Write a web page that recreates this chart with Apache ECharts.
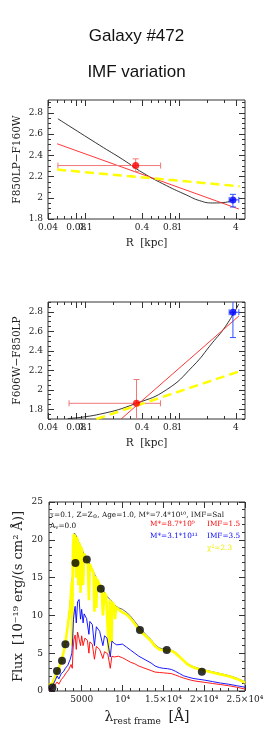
<!DOCTYPE html>
<html><head><meta charset="utf-8">
<script src="https://cdn.jsdelivr.net/npm/echarts@6/dist/echarts.min.js"></script>
<style>html,body{margin:0;padding:0;background:#fff}#c{width:273px;height:732px}</style>
</head><body><div id="c"></div>
<script>
// ---------------- DATA ----------------
const titleLine1 = 'Galaxy #472';
const titleLine2 = 'IMF variation';

const rMajorTicks = [0.04, 0.08, 0.1, 0.4, 0.8, 1, 4];
const rMinorTicks = [0.05, 0.06, 0.07, 0.09, 0.2, 0.3, 0.5, 0.6, 0.7, 0.9, 2, 3];
const colorMajorTicks = [1.8, 2, 2.2, 2.4, 2.6, 2.8];

// Panel 1 : F850LP-F160W vs R
const p1BlackR = [0.051, 0.142, 0.25, 0.41, 0.73, 1.19, 1.64, 2.26, 3.1, 3.9];
const p1BlackC = [2.743, 2.494, 2.36, 2.234, 2.114, 2.026, 1.973, 1.951, 1.957, 1.99];
const p1RedR = [0.05, 4.3];
const p1RedC = [2.508, 1.894];
const p1YellowR = [0.05, 4.4];
const p1YellowC = [2.265, 2.108];
// point: [R, color, Rlo, Rhi, Clo, Chi]
const p1RedPoint = [0.343, 2.303, 0.051, 0.632, 2.246, 2.366];
const p1BluePoint = [3.72, 1.98, 3.39, 4.3, 1.913, 2.032];

// Panel 2 : F606W-F850LP vs R
const p2BlackR = [0.065, 0.142, 0.35, 0.73, 1.39, 2.24, 3.1, 4.3];
const p2BlackC = [1.705, 1.749, 1.861, 2.0, 2.24, 2.48, 2.65, 2.88];
const p2RedR = [0.24, 4.3];
const p2RedC = [1.7, 2.756];
const p2YellowR = [0.131, 4.4];
const p2YellowC = [1.7, 2.19];
const p2RedPoint = [0.35, 1.861, 0.067, 0.63, 1.62, 2.105];
const p2BluePoint = [3.72, 2.795, 3.39, 4.3, 2.535, 3.0];

// Panel 3 : SED
const sedXMajor = [5000, 10000, 15000, 20000, 25000];
const sedXLabels = ['5000', '10⁴', '1.5×10⁴', '2×10⁴', '2.5×10⁴'];
const sedYMajor = [0, 5, 10, 15, 20, 25];

const yellowLam = [1000,1200,1400,1600,1800,2000,2200,2400,2600,2800,3000,3200,3400,3600,3700,3800,3850,3900,3950,4000,4050,4100,4150,4250,4340,4400,4500,4600,4700,4800,4861,4950,5050,5175,5300,5450,5600,5750,5890,6000,6150,6300,6450,6563,6700,6800,6900,7000,7150,7300,7450,7600,7800,8000,8150,8330,8450,8500,8600,8660,8750,8800,9000,9100,9200,9400,9600,10000,10500,11000,11500,12000,12500,13000,13500,14000,14500,15000,15500,16000,16500,17000,17500,18000,18500,19000,19500,20000,21000,22000,23000,24000,25000];
const yellowFlux = [0.8,0.9,1.0,1.5,2.0,2.6,3.0,3.6,4.3,5.2,6.3,7.8,9.5,11.0,13.0,14.5,6.0,15.5,19.0,20.2,20.8,16.5,20.7,20.5,15.0,20.4,20.0,14.0,19.6,19.2,13.0,19.0,18.6,14.0,18.2,17.8,17.4,17.1,12.0,16.8,16.3,16.0,15.6,10.5,15.2,11.0,14.8,14.5,14.2,13.8,13.4,10.0,13.0,12.6,12.4,5.0,12.1,8.0,11.9,6.5,11.7,11.6,11.3,9.5,11.1,10.9,10.7,10.4,10.1,9.6,8.9,8.1,7.6,7.1,6.6,5.9,5.5,5.4,5.4,5.3,5.0,4.5,4.0,3.5,3.2,3.0,2.85,2.7,2.45,2.2,1.95,1.6,1.1];

const blackLam = [1000,1400,1800,2200,2600,3000,3400,3700,3900,4000,4100,4300,4600,5000,5600,6000,6500,7000,7500,8000,8500,9000,9500,10000,10500,11000,11500,12000,12500,13000,13500,14000,14500,15000,15500,16000,16500,17000,17500,18000,18500,19000,19500,20000,21000,22000,23000,24000,25000];
const blackFlux = [0.8,1.0,2.0,3.0,4.3,6.3,9.5,13.0,15.5,20.2,20.9,20.6,19.8,18.8,17.4,16.8,15.6,14.5,13.6,12.6,12.1,11.4,11.0,10.8,10.4,9.9,9.2,8.5,7.9,7.3,6.8,6.1,5.7,5.55,5.5,5.4,5.1,4.6,4.1,3.6,3.3,3.1,2.95,2.8,2.55,2.3,2.05,1.7,1.2];

const blueLam = [1000,1200,1500,1800,2000,2200,2500,2800,3000,3300,3600,3800,3900,4000,4100,4200,4340,4500,4680,4861,5000,5175,5300,5600,5890,6000,6300,6563,6800,7200,7600,7800,8100,8500,8700,9000,9300,9500,10000,10500,11000,11500,12000,12500,13000,13500,14000,14500,15000,15500,16000,16500,17000,17500,18000,18500,19000,20000,21000,22000,23000,24000,25000];
const blueFlux = [0.1,0.3,0.8,1.5,2.0,1.6,2.3,2.6,3.0,3.4,4.2,5.0,7.0,9.5,10.5,11.2,9.0,11.8,12.1,9.5,10.8,9.0,10.2,9.6,7.5,9.2,8.8,6.0,8.5,7.9,6.0,7.3,7.0,4.5,6.6,6.3,6.1,6.3,6.2,5.8,5.4,5.0,4.6,4.3,4.0,3.7,3.3,3.1,3.0,2.95,2.85,2.6,2.3,2.0,1.85,1.7,1.6,1.45,1.25,1.05,0.9,0.7,0.5];

const redLam = [1000,1300,1600,2000,2200,2500,2800,3100,3400,3700,3850,3950,4050,4200,4340,4500,4680,4861,5000,5175,5400,5700,5890,6000,6300,6563,6800,7200,7600,7800,8200,8500,8700,9000,9200,9500,10000,10500,11000,11500,12000,12500,13000,13500,14000,14500,15000,15500,16000,16500,17000,17500,18000,18500,19000,20000,21000,22000,23000,24000,25000];
const redFlux = [0.05,0.2,0.6,1.2,0.9,1.5,1.9,2.4,2.8,3.5,3.0,5.5,6.8,7.4,5.5,7.8,8.0,6.0,7.3,6.0,7.0,6.7,5.0,6.5,6.2,4.2,5.9,5.5,4.3,5.2,4.9,3.0,4.6,4.5,4.3,4.6,4.4,4.1,3.8,3.6,3.3,3.1,2.9,2.7,2.5,2.45,2.4,2.35,2.3,2.1,1.9,1.7,1.55,1.4,1.3,1.15,1.0,0.85,0.7,0.5,0.25];

const photLam = [1413, 1978, 2592, 3010, 4238, 5627, 7346, 12137, 15418, 19717];
const photFlux = [0.45, 2.66, 3.99, 6.17, 16.94, 17.38, 13.52, 8.07, 5.41, 2.53];

// ---------------- HELPERS ----------------
const SERIF = 'DejaVu Serif';
const AX = '#333';
const LX = r => Math.log10(r);
const zip = (a, b, f) => a.map((v, i) => [f ? f(v) : v, b[i]]);
function minorList(lo, hi, step, majors) {
  const out = [];
  const n = Math.round((hi - lo) / step);
  for (let k = 0; k <= n; k++) {
    const v = +(lo + k * step).toFixed(4);
    if (!majors.some(m => Math.abs(m - v) < 1e-6)) out.push(v);
  }
  return out;
}
function tickAxis(gridIndex, pos, min, max, values, len, label, extra) {
  return Object.assign({
    type: 'value', gridIndex, position: pos, min, max,
    axisLine: {show: false, onZero: false}, splitLine: {show: false},
    axisTick: {show: true, inside: true, length: len, customValues: values, lineStyle: {color: AX, width: 1}},
    axisLabel: label ? Object.assign({customValues: values, color: '#222', fontFamily: SERIF, fontSize: 9}, label) : {show: false}
  }, extra || {});
}
const xAxes = [], yAxes = [];
function addAxes(g, xr, yr, xMaj, xMin, yMaj, yMin, xLabel, yLabel, xExtra, yExtra) {
  xAxes.push(tickAxis(g, 'bottom', xr[0], xr[1], xMaj, 6, xLabel, xExtra));
  xAxes.push(tickAxis(g, 'bottom', xr[0], xr[1], xMin, 3));
  xAxes.push(tickAxis(g, 'top', xr[0], xr[1], xMaj, 6));
  xAxes.push(tickAxis(g, 'top', xr[0], xr[1], xMin, 3));
  yAxes.push(tickAxis(g, 'left', yr[0], yr[1], yMaj, 6, yLabel, yExtra));
  yAxes.push(tickAxis(g, 'left', yr[0], yr[1], yMin, 3));
  yAxes.push(tickAxis(g, 'right', yr[0], yr[1], yMaj, 6));
  yAxes.push(tickAxis(g, 'right', yr[0], yr[1], yMin, 3));
}
const rFmt = v => String(parseFloat(Math.pow(10, v).toPrecision(3)));
const nameStyle = {fontFamily: SERIF, fontSize: 10.5, color: '#222'};

addAxes(0, [LX(0.04), LX(5)], [1.8, 2.92], rMajorTicks.map(LX), rMinorTicks.map(LX),
  colorMajorTicks, minorList(1.8, 2.9, 0.05, colorMajorTicks),
  {formatter: rFmt, margin: 4}, {margin: 5},
  {name: 'R  [kpc]', nameLocation: 'middle', nameGap: 19, nameMoveOverlap: false, nameTextStyle: nameStyle},
  {name: 'F850LP\u2212F160W', nameLocation: 'middle', nameGap: 25, nameMoveOverlap: false, nameRotate: 90, nameTextStyle: nameStyle});
addAxes(1, [LX(0.04), LX(5)], [1.7, 2.9], rMajorTicks.map(LX), rMinorTicks.map(LX),
  colorMajorTicks, minorList(1.7, 2.9, 0.05, colorMajorTicks),
  {formatter: rFmt, margin: 4}, {margin: 5},
  {name: 'R  [kpc]', nameLocation: 'middle', nameGap: 19, nameMoveOverlap: false, nameTextStyle: nameStyle},
  {name: 'F606W\u2212F850LP', nameLocation: 'middle', nameGap: 25, nameMoveOverlap: false, nameRotate: 90, nameTextStyle: nameStyle});
addAxes(2, [1000, 25000], [0, 25], sedXMajor, minorList(1000, 25000, 1000, sedXMajor),
  sedYMajor, minorList(0, 25, 1, sedYMajor),
  {formatter: v => sedXLabels[sedXMajor.indexOf(Math.round(v))] || '', margin: 4}, {margin: 6},
  {name: '{l|λ}{s|rest frame}  {l|[Å]}', nameLocation: 'middle', nameGap: 18, nameMoveOverlap: false,
   nameTextStyle: {fontFamily: SERIF, color: '#222', rich: {l: {fontFamily: SERIF, fontSize: 14, color: '#222'}, s: {fontFamily: SERIF, fontSize: 9, color: '#222', verticalAlign: 'bottom', padding: [8, 0, 0, 0]}}}},
  {name: 'Flux  [10⁻¹⁹ erg/(s cm² Å)]', nameLocation: 'middle', nameGap: 24, nameMoveOverlap: false, nameRotate: 90,
   nameTextStyle: {fontFamily: SERIF, fontSize: 13, color: '#222'}});

function errSeries(xi, yi, pt, color, isLog) {
  const f = isLog ? LX : (v => v);
  return {
    type: 'custom', xAxisIndex: xi, yAxisIndex: yi, clip: true, z: 3,
    data: [[f(pt[0]), pt[1], f(pt[2]), f(pt[3]), pt[4], pt[5]]],
    renderItem: (params, api) => {
      const x = api.value(0), y = api.value(1);
      const l = api.coord([api.value(2), y]), r = api.coord([api.value(3), y]);
      const b = api.coord([x, api.value(4)]), t = api.coord([x, api.value(5)]);
      const s = {stroke: color, lineWidth: 1};
      const cap = 3;
      return {type: 'group', children: [
        {type: 'line', shape: {x1: l[0], y1: l[1], x2: r[0], y2: r[1]}, style: s},
        {type: 'line', shape: {x1: l[0], y1: l[1] - cap, x2: l[0], y2: l[1] + cap}, style: s},
        {type: 'line', shape: {x1: r[0], y1: r[1] - cap, x2: r[0], y2: r[1] + cap}, style: s},
        {type: 'line', shape: {x1: b[0], y1: b[1], x2: t[0], y2: t[1]}, style: s},
        {type: 'line', shape: {x1: b[0] - cap, y1: b[1], x2: b[0] + cap, y2: b[1]}, style: s},
        {type: 'line', shape: {x1: t[0] - cap, y1: t[1], x2: t[0] + cap, y2: t[1]}, style: s}
      ]};
    }
  };
}
function lineS(xi, yi, data, color, width, type, z, smooth) {
  return {type: 'line', xAxisIndex: xi, yAxisIndex: yi, data, showSymbol: false, smooth: smooth || false,
    lineStyle: {color, width, type: type || 'solid'}, z: z || 2, silent: true};
}
function ptS(xi, yi, pt, color, size, isLog) {
  return {type: 'scatter', xAxisIndex: xi, yAxisIndex: yi, data: [[isLog ? LX(pt[0]) : pt[0], pt[1]]],
    symbolSize: size, itemStyle: {color}, z: 5};
}

const series = [
  // panel 1
  lineS(0, 0, zip(p1BlackR, p1BlackC, LX), '#000', 0.8, 'solid', 2, true),
  lineS(0, 0, zip(p1RedR, p1RedC, LX), '#ff2020', 0.9),
  lineS(0, 0, zip(p1YellowR, p1YellowC, LX), '#ffff00', 2.5, [9, 5], 3),
  errSeries(0, 0, p1RedPoint, '#f07878', true),
  ptS(0, 0, p1RedPoint, '#ff0000', 7, true),
  errSeries(0, 0, p1BluePoint, '#3050ff', true),
  ptS(0, 0, p1BluePoint, '#0000ff', 7, true),
  // panel 2
  lineS(4, 4, zip(p2BlackR, p2BlackC, LX), '#000', 0.8, 'solid', 2, true),
  lineS(4, 4, zip(p2RedR, p2RedC, LX), '#ff2020', 0.9),
  lineS(4, 4, zip(p2YellowR, p2YellowC, LX), '#ffff00', 2.5, [9, 5], 3),
  errSeries(4, 4, p2RedPoint, '#f07878', true),
  ptS(4, 4, p2RedPoint, '#ff0000', 7, true),
  errSeries(4, 4, p2BluePoint, '#3050ff', true),
  ptS(4, 4, p2BluePoint, '#0000ff', 7, true),
  // panel 3
  lineS(8, 8, zip(blackLam, blackFlux), '#222', 0.7, 'solid', 2),
  lineS(8, 8, zip(yellowLam, yellowFlux), '#ffff00', 2.6, 'solid', 3),
  lineS(8, 8, zip(blueLam, blueFlux), '#0000ff', 0.9, 'solid', 4),
  lineS(8, 8, zip(redLam, redFlux), '#ff0000', 0.9, 'solid', 4),
  {type: 'scatter', xAxisIndex: 8, yAxisIndex: 8, data: zip(photLam, photFlux), symbolSize: 8, itemStyle: {color: '#000'}, z: 6}
];

const annFontStr = '7.3px "DejaVu Serif"';
const subRich = {sub: {fontSize: 5.5, fontFamily: SERIF, fill: '#111', verticalAlign: 'bottom', padding: [4, 0, 0, 0]}};
const graphic = [
  {type: 'text', left: 'center', top: 28, style: {text: titleLine1, font: '17px "Liberation Sans"', fill: '#111'}},
  {type: 'text', left: 'center', top: 64, style: {text: titleLine2, font: '17px "Liberation Sans"', fill: '#111'}},
  {type: 'text', x: 50, y: 510, style: {text: 'τ=0.1, Z=Z{sub|⊙}, Age=1.0, M*=7.4*10¹⁰, IMF=Sal', fill: '#111', font: annFontStr, rich: subRich}},
  {type: 'text', x: 50, y: 521, style: {text: 'A{sub|v}=0.0', fill: '#111', font: annFontStr, rich: subRich}},
  {type: 'text', x: 150, y: 521, style: {text: 'M*=8.7*10⁹', fill: '#ff0000', font: annFontStr}},
  {type: 'text', x: 207, y: 521, style: {text: 'IMF=1.5', fill: '#ff0000', font: annFontStr}},
  {type: 'text', x: 150, y: 533, style: {text: 'M*=3.1*10¹¹', fill: '#0000ff', font: annFontStr}},
  {type: 'text', x: 207, y: 533, style: {text: 'IMF=3.5', fill: '#0000ff', font: annFontStr}},
  {type: 'text', x: 207, y: 545, style: {text: 'χ²=2.3', fill: '#eeee00', font: annFontStr}}
];

const gridBase = {show: true, borderColor: AX, borderWidth: 1, backgroundColor: 'transparent', containLabel: false};
const option = {
  animation: false,
  backgroundColor: '#fff',
  grid: [
    Object.assign({left: 48, top: 100, width: 197, height: 119}, gridBase),
    Object.assign({left: 48, top: 302, width: 197, height: 117}, gridBase),
    Object.assign({left: 49, top: 502, width: 196, height: 189}, gridBase)
  ],
  xAxis: xAxes,
  yAxis: yAxes,
  series,
  graphic
};
const chart = echarts.init(document.getElementById('c'), null, {renderer: 'canvas'});
chart.setOption(option);
</script></body></html>
